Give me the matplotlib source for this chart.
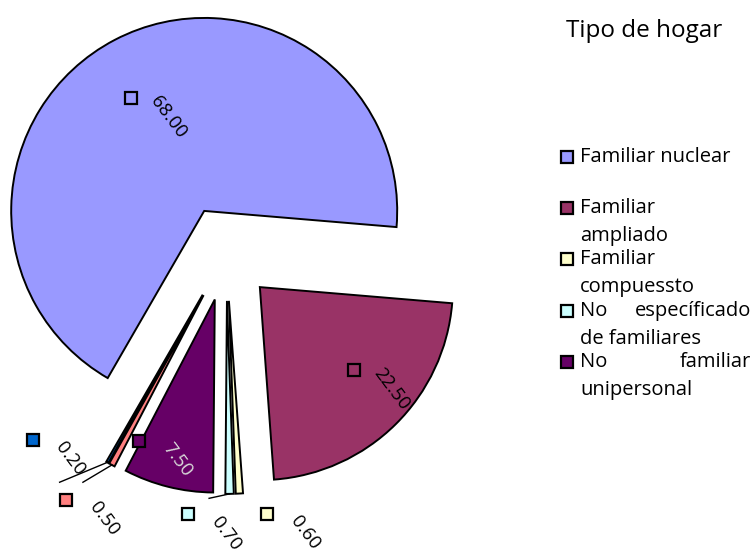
import numpy as np
import matplotlib
matplotlib.use("Agg")
import matplotlib.pyplot as plt

plt.rcParams['font.family'] = ['Open Sans', 'DejaVu Sans']

# data
CATEGORIES = ["Familiar nuclear", "Familiar ampliado", "Familiar compuessto",
              "No específicado de familiares", "No familiar unipersonal", "", ""]
VALUES = [68.00, 22.50, 0.60, 0.70, 7.50, 0.50, 0.20]
COLORS = ["#9999FF", "#993366", "#FFFFCC", "#CCFFFF", "#660066", "#FF8080", "#0066CC"]

# legend text as wrapped in the original (only the first five entries are visible)
LEGEND_LINES = [["Familiar nuclear"], ["Familiar", "ampliado"], ["Familiar", "compuessto"],
                ["No específicado", "de familiares"], ["No familiar", "unipersonal"]]
LEGEND_JUSTIFY = [False, False, False, True, True]

# label placement relative to each exploded wedge (radius fraction, angle nudge in deg)
LABEL_RF = [0.70, 0.65, 1.12, 1.124, 0.83, 1.28, 1.16]
LABEL_NUDGE = [5.4, 3.7, 7.1, -11.1, -14.3, -5.5, -19.8]
LABEL_TXT_COLOR = ["black", "black", "black", "black", "#D9D9D9", "black", "black"]
LEADER_OFFSET = [None, None, None, (21, 16), None, (17, 18), (27, -42)]

W, H = 752, 553
fig = plt.figure(figsize=(W / 100, H / 100), dpi=100)
ax = fig.add_axes([0, 0, 1, 1])

wedges, _ = ax.pie(VALUES, colors=COLORS, startangle=240, counterclock=False,
                   radius=193, center=(226.3, 299.8), explode=[47.7] * len(VALUES),
                   wedgeprops=dict(edgecolor="black", linewidth=1.4))
ax.set_xlim(0, W)
ax.set_ylim(0, H)
ax.set_aspect("equal")
ax.axis("off")

for i, w in enumerate(wedges):
    tm = np.deg2rad((w.theta1 + w.theta2) / 2)
    ta = tm + np.deg2rad(LABEL_NUDGE[i])
    cx, cy = w.center
    sx = cx + LABEL_RF[i] * w.r * np.cos(ta)
    sy = cy + LABEL_RF[i] * w.r * np.sin(ta)
    if LEADER_OFFSET[i] is not None:
        tx = cx + w.r * np.cos(tm)
        ty = cy + w.r * np.sin(tm)
        ex, ey = sx + LEADER_OFFSET[i][0], sy + LEADER_OFFSET[i][1]
        ax.plot([tx, ex], [ty, ey], color="black", lw=1.0)
    ax.plot(sx, sy, marker="s", ms=9, mfc=COLORS[i], mec="black", mew=1.6)
    ax.text(sx + 38, sy - 19, f"{VALUES[i]:.2f}", rotation=-53, ha="center", va="center",
            rotation_mode="anchor", fontsize=13.5, color=LABEL_TXT_COLOR[i])

# title
ax.text(644, H - 31, "Tipo de hogar", ha="center", va="center", fontsize=17.5)

# legend, drawn by hand to keep the wrapped / justified lines
for i, lines in enumerate(LEGEND_LINES):
    y0 = H - (157 + 51.2 * i)
    ax.plot(567, y0, marker="s", ms=9, mfc=COLORS[i], mec="black", mew=1.6)
    for j, line in enumerate(lines):
        y = y0 - 28 * j
        if j == 0 and LEGEND_JUSTIFY[i]:
            a, b = line.split(" ", 1)
            ax.text(580, y, a, ha="left", va="center", fontsize=14.5)
            ax.text(751, y, b, ha="right", va="center", fontsize=14.5)
        else:
            ax.text(580, y, line, ha="left", va="center", fontsize=14.5)

fig.savefig("out.png", dpi=100)
